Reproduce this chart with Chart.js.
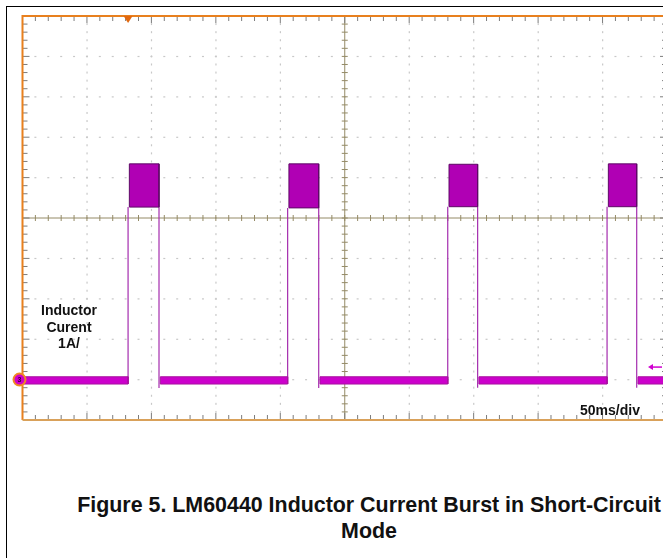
<!DOCTYPE html>
<html><head><meta charset="utf-8">
<script src="https://cdn.jsdelivr.net/npm/chart.js@4.4.1/dist/chart.umd.min.js"></script>
<style>
html,body{margin:0;padding:0;width:663px;height:558px;overflow:hidden;background:#fff;font-family:"Liberation Sans",Arial,sans-serif;}
#frame{position:absolute;left:6px;top:6px;width:740px;height:620px;border:1.5px solid #000;box-sizing:border-box}
#wrap{position:absolute;left:0;top:0;width:690px;height:440px}
.lbl{position:absolute;font-weight:bold;color:#111;font-size:14px;white-space:nowrap}
#ind{left:34px;top:302px;width:70px;text-align:center;line-height:16.5px}
#tb{left:580px;top:401px;line-height:18px}
#cap{position:absolute;left:0;width:738px;top:492px;text-align:center;font-size:21.4px;font-weight:bold;line-height:26px;color:#111}
</style></head><body>
<div id="frame"></div>
<div id="wrap"><canvas id="c" width="690" height="440"></canvas></div>
<div class="lbl" id="ind">Inductor<br>Curent<br>1A/</div>
<div class="lbl" id="tb">50ms/div</div>
<div id="cap">Figure 5. LM60440 Inductor Current Burst in Short-Circuit<br>Mode</div>
<script>
// ---- data (time in ms, current in A) ----
const TIME_RANGE_MS = [0, 500];          // 10 div x 50 ms/div
const CURRENT_RANGE_A = [-1, 9];         // 10 div x 1 A/div
const PULSE_START_MS = [81.9, 205.7, 329.9, 453.5];
const PULSE_END_MS   = [105.9, 229.8, 353.1, 476.5];
const BURST_TOP_A    = [5.34, 5.34, 5.33, 5.34];
const BURST_BOTTOM_A = [4.27, 4.25, 4.28, 4.28];
const UNDERSHOOT_A   = [-0.21, -0.21, -0.2, -0.2];
const BASELINE_BAND_A = [-0.11, 0.07];   // bottom, top of noisy zero-current band
const TRIGGER_MS = 81.9;
const TRIGGER_LEVEL_A = 0.31;
const GROUND_A = 0;

const X_DIVS = 10, Y_DIVS = 10, MINOR = 5;

// ---- datasets built from the arrays ----
const datasets = [];
function poly(x0, x1, lo, hi) {
  return [{x:x0,y:lo},{x:x0,y:hi},{x:x1,y:hi},{x:x1,y:lo},{x:x0,y:lo}];
}
let prev = TIME_RANGE_MS[0];
for (let i = 0; i <= PULSE_START_MS.length; i++) {
  const end = i < PULSE_START_MS.length ? PULSE_START_MS[i] : TIME_RANGE_MS[1];
  datasets.push({data: poly(prev, end, BASELINE_BAND_A[0], BASELINE_BAND_A[1]),
    fill: 'shape', backgroundColor: '#cc00cc', borderColor: '#a8139f', borderWidth: 1});
  if (i < PULSE_END_MS.length) prev = PULSE_END_MS[i] + 1;
}
for (let i = 0; i < PULSE_START_MS.length; i++) {
  datasets.push({data: poly(PULSE_START_MS[i] + 1, PULSE_END_MS[i], BURST_BOTTOM_A[i], BURST_TOP_A[i]),
    fill: 'shape', backgroundColor: '#b000b4', borderColor: '#5e0a66', borderWidth: 1});
}
const edges = [];
for (let i = 0; i < PULSE_START_MS.length; i++) {
  edges.push({x:PULSE_START_MS[i], y:BASELINE_BAND_A[0]}, {x:PULSE_START_MS[i], y:BURST_BOTTOM_A[i]}, {x:PULSE_START_MS[i], y:null});
  edges.push({x:PULSE_END_MS[i], y:BURST_BOTTOM_A[i]}, {x:PULSE_END_MS[i], y:UNDERSHOOT_A[i]}, {x:PULSE_END_MS[i]+0.5, y:null});
}
datasets.push({data: edges, fill: false, borderColor: '#a42cae', borderWidth: 1.2, spanGaps: false});

const scopePlugin = {
  id: 'scope',
  beforeDatasetsDraw(chart) {
    const {ctx, chartArea: a, scales: {x, y}} = chart;
    const xStep = (TIME_RANGE_MS[1]-TIME_RANGE_MS[0]) / X_DIVS;
    const yStep = (CURRENT_RANGE_A[1]-CURRENT_RANGE_A[0]) / Y_DIVS;
    ctx.save();
    ctx.fillStyle = '#c8c8c8';
    for (let i = 1; i < X_DIVS; i++) {
      if (i === X_DIVS/2) continue;
      const px = x.getPixelForValue(TIME_RANGE_MS[0] + i*xStep);
      for (let j = 1; j < Y_DIVS*MINOR; j++) {
        const py = y.getPixelForValue(CURRENT_RANGE_A[0] + j*yStep/MINOR);
        ctx.fillRect(px-0.5, py-1, 1.2, 2);
      }
    }
    for (let j = 1; j < Y_DIVS; j++) {
      if (j === Y_DIVS/2) continue;
      const py = y.getPixelForValue(CURRENT_RANGE_A[0] + j*yStep);
      for (let i = 1; i < X_DIVS*MINOR; i++) {
        const px = x.getPixelForValue(TIME_RANGE_MS[0] + i*xStep/MINOR);
        ctx.fillRect(px-1, py-0.5, 2, 1.2);
      }
    }
    const cx = x.getPixelForValue(TIME_RANGE_MS[0] + X_DIVS/2*xStep);
    const cy = y.getPixelForValue(CURRENT_RANGE_A[0] + Y_DIVS/2*yStep);
    ctx.strokeStyle = '#948a66'; ctx.lineWidth = 1;
    ctx.beginPath();
    ctx.moveTo(cx, a.top); ctx.lineTo(cx, a.bottom);
    ctx.moveTo(a.left, cy); ctx.lineTo(a.right, cy);
    for (let i = 1; i < X_DIVS*MINOR; i++) {
      const px = x.getPixelForValue(TIME_RANGE_MS[0] + i*xStep/MINOR);
      ctx.moveTo(px, cy-3); ctx.lineTo(px, cy+3);
    }
    for (let j = 1; j < Y_DIVS*MINOR; j++) {
      const py = y.getPixelForValue(CURRENT_RANGE_A[0] + j*yStep/MINOR);
      ctx.moveTo(cx-3, py); ctx.lineTo(cx+3, py);
    }
    ctx.stroke();
    ctx.strokeStyle = '#7c7c7c';
    ctx.beginPath();
    for (let i = 1; i < X_DIVS*MINOR; i++) {
      const px = x.getPixelForValue(TIME_RANGE_MS[0] + i*xStep/MINOR);
      const len = i % MINOR === 0 ? 7 : 5;
      ctx.moveTo(px, a.top); ctx.lineTo(px, a.top+len);
      ctx.moveTo(px, a.bottom); ctx.lineTo(px, a.bottom-len);
    }
    for (let j = 1; j < Y_DIVS*MINOR; j++) {
      const py = y.getPixelForValue(CURRENT_RANGE_A[0] + j*yStep/MINOR);
      const len = j % MINOR === 0 ? 7 : 5;
      ctx.moveTo(a.left, py); ctx.lineTo(a.left+len, py);
      ctx.moveTo(a.right, py); ctx.lineTo(a.right-len, py);
    }
    ctx.stroke();
    ctx.lineWidth = 2;
    ctx.strokeStyle = '#e8801e';
    ctx.beginPath();
    ctx.moveTo(a.left, a.bottom); ctx.lineTo(a.left, a.top); ctx.lineTo(a.right, a.top); ctx.lineTo(a.right, a.bottom);
    ctx.stroke();
    ctx.strokeStyle = '#d9a15a';
    ctx.beginPath(); ctx.moveTo(a.left, a.bottom); ctx.lineTo(a.right, a.bottom); ctx.stroke();
    ctx.restore();
  },
  afterDatasetsDraw(chart) {
    const {ctx, chartArea: a, scales: {x, y}} = chart;
    ctx.save();
    const tx = x.getPixelForValue(TRIGGER_MS);
    ctx.fillStyle = '#e2680e';
    ctx.beginPath(); ctx.moveTo(tx-4.5, a.top); ctx.lineTo(tx+4.5, a.top); ctx.lineTo(tx, a.top+7); ctx.closePath(); ctx.fill();
    const gy = y.getPixelForValue(GROUND_A);
    ctx.beginPath(); ctx.arc(a.left-3, gy, 6, 0, Math.PI*2);
    ctx.fillStyle = '#d000c8'; ctx.fill();
    ctx.lineWidth = 2; ctx.strokeStyle = '#f08a22'; ctx.stroke();
    ctx.fillStyle = '#3a0030'; ctx.font = 'bold 7px "Liberation Sans", Arial';
    ctx.textAlign = 'center'; ctx.textBaseline = 'middle';
    ctx.fillText('3', a.left-3, gy+0.5);
    const ly = y.getPixelForValue(TRIGGER_LEVEL_A);
    ctx.strokeStyle = '#d000d0'; ctx.fillStyle = '#d000d0'; ctx.lineWidth = 1.5;
    ctx.beginPath(); ctx.moveTo(652, ly); ctx.lineTo(662, ly); ctx.stroke();
    ctx.beginPath(); ctx.moveTo(648, ly); ctx.lineTo(653, ly-3); ctx.lineTo(653, ly+3); ctx.closePath(); ctx.fill();
    ctx.restore();
  }
};

new Chart(document.getElementById('c'), {
  type: 'line',
  data: {datasets},
  options: {
    responsive: false, animation: false, devicePixelRatio: 1,
    layout: {padding: {left: 22.5, top: 16, right: 23, bottom: 20}},
    plugins: {legend: {display: false}, tooltip: {enabled: false}},
    elements: {point: {radius: 0}, line: {tension: 0}},
    scales: {
      x: {type: 'linear', min: TIME_RANGE_MS[0], max: TIME_RANGE_MS[1], display: false},
      y: {type: 'linear', min: CURRENT_RANGE_A[0], max: CURRENT_RANGE_A[1], display: false}
    }
  },
  plugins: [scopePlugin]
});
</script>
</body></html>
